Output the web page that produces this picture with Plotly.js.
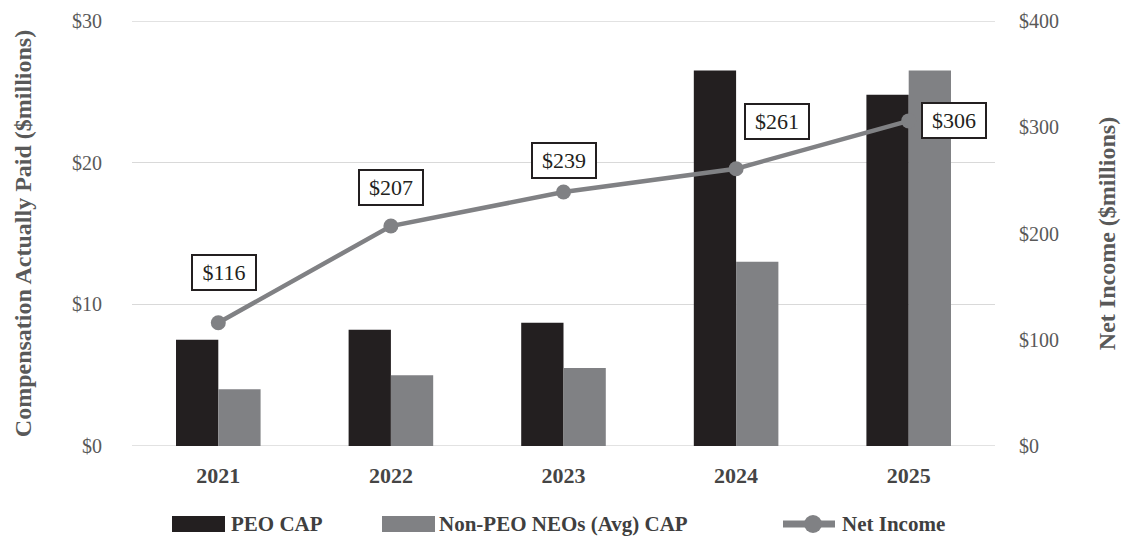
<!DOCTYPE html>
<html>
<head>
<meta charset="utf-8">
<script src="https://cdn.plot.ly/plotly-3.0.1.min.js"></script>
<style>html,body{margin:0;padding:0;background:#fff;}#chart{width:1124px;height:537px;}</style>
</head>
<body>
<div id="chart"></div>
<script>
const years = ['2021', '2022', '2023', '2024', '2025'];
const peoCap = [7.5, 8.2, 8.7, 26.5, 24.8];
const nonPeoCap = [4.0, 5.0, 5.5, 13.0, 26.5];
const netIncome = [116, 207, 239, 261, 306];
const netIncomeLabels = ['$116', '$207', '$239', '$261', '$306'];
const leftTicks = [0, 10, 20, 30];
const leftTickText = ['$0', '$10', '$20', '$30'];
const rightTicks = [0, 100, 200, 300, 400];
const rightTickText = ['$0', '$100', '$200', '$300', '$400'];
const seriesNames = ['PEO CAP', 'Non-PEO NEOs (Avg) CAP', 'Net Income'];
const labelOffsets = [[6, 50], [0, 39], [0, 32], [41, 47], [45, 0]];

const serif = '"Liberation Serif", "DejaVu Serif", serif';
const dark = '#231f20';
const grey = '#808184';
const textGrey = '#595959';

const traces = [
  {type: 'bar', name: seriesNames[0], x: years, y: peoCap, marker: {color: dark}, yaxis: 'y'},
  {type: 'bar', name: seriesNames[1], x: years, y: nonPeoCap, marker: {color: grey}, yaxis: 'y'},
  {type: 'scatter', mode: 'lines+markers', name: seriesNames[2], x: years, y: netIncome, yaxis: 'y2',
   line: {color: grey, width: 4.5}, marker: {color: grey, size: 15}}
];

const annotations = years.map((yr, i) => ({
  x: i, y: netIncome[i], xref: 'x', yref: 'y2',
  text: netIncomeLabels[i], showarrow: false,
  xshift: labelOffsets[i][0], yshift: labelOffsets[i][1],
  width: 60, height: 31,
  font: {family: serif, size: 22, color: dark},
  bordercolor: dark, borderwidth: 2, borderpad: 1, bgcolor: '#ffffff'
}));

// custom legend (paper coordinates; plot area is 863 x 425 px)
const PW = 863, PH = 425;
const px = v => (v - 132) / PW;
const py = v => (446 - v) / PH;
const legY = 524;
const legendFont = {family: serif, size: 21, color: '#3f3f3f', weight: 'bold'};
const legendItems = [
  {text: seriesNames[0], tx: 229},
  {text: seriesNames[1], tx: 437},
  {text: seriesNames[2], tx: 840}
];
legendItems.forEach(it => annotations.push({
  xref: 'paper', yref: 'paper', x: px(it.tx), y: py(legY), xanchor: 'left', yanchor: 'middle',
  text: it.text, showarrow: false, font: legendFont
}));

const shapes = [
  // outer gridlines at $0 and $30
  {type: 'line', xref: 'paper', yref: 'y', x0: 0, x1: 1, y0: 0, y1: 0, line: {color: '#d9d9d9', width: 1.5}, layer: 'below'},
  {type: 'line', xref: 'paper', yref: 'y', x0: 0, x1: 1, y0: 30, y1: 30, line: {color: '#d9d9d9', width: 1.5}, layer: 'below'},
  // legend swatches
  {type: 'rect', xref: 'paper', yref: 'paper', x0: px(172), x1: px(225), y0: py(legY - 8), y1: py(legY + 8), fillcolor: dark, line: {width: 0}},
  {type: 'rect', xref: 'paper', yref: 'paper', x0: px(382), x1: px(435), y0: py(legY - 8), y1: py(legY + 8), fillcolor: grey, line: {width: 0}},
  {type: 'line', xref: 'paper', yref: 'paper', x0: px(783), x1: px(835), y0: py(legY), y1: py(legY), line: {color: grey, width: 7}},
  {type: 'circle', xref: 'paper', yref: 'paper', x0: px(804), x1: px(822), y0: py(legY - 9), y1: py(legY + 9), fillcolor: grey, line: {width: 0}}
];

const layout = {
  width: 1124, height: 537,
  margin: {l: 132, r: 129, t: 21, b: 91},
  paper_bgcolor: '#fff', plot_bgcolor: '#fff',
  barmode: 'group', bargap: 0.51, bargroupgap: 0,
  font: {family: serif, color: textGrey},
  showlegend: false,
  xaxis: {type: 'category', range: [-0.5, 4.5], autorange: false, showgrid: false, zeroline: false, showline: false, ticks: '',
          tickfont: {family: serif, size: 22, color: '#454545', weight: 'bold'}, ticklabelstandoff: 14, automargin: false},
  yaxis: {range: [0, 30], autorange: false, tickvals: leftTicks, ticktext: leftTickText,
          showgrid: true, gridcolor: '#d9d9d9', gridwidth: 1.5, zeroline: false, showline: false, automargin: false,
          tickfont: {family: serif, size: 20, color: textGrey}, ticklabelstandoff: 29,
          title: {text: 'Compensation Actually Paid ($millions)', font: {family: serif, size: 24, color: textGrey, weight: 'bold'}, standoff: 33}},
  yaxis2: {range: [0, 400], autorange: false, tickvals: rightTicks, ticktext: rightTickText,
           overlaying: 'y', side: 'right', showgrid: false, zeroline: false, showline: false, automargin: false,
           tickfont: {family: serif, size: 20, color: textGrey}, ticklabelstandoff: 23,
           title: {text: 'Net Income ($millions)', font: {family: serif, size: 24, color: textGrey, weight: 'bold'}, standoff: 40}},
  annotations: annotations,
  shapes: shapes
};

Plotly.newPlot('chart', traces, layout, {displayModeBar: false, staticPlot: true});
</script>
</body>
</html>
